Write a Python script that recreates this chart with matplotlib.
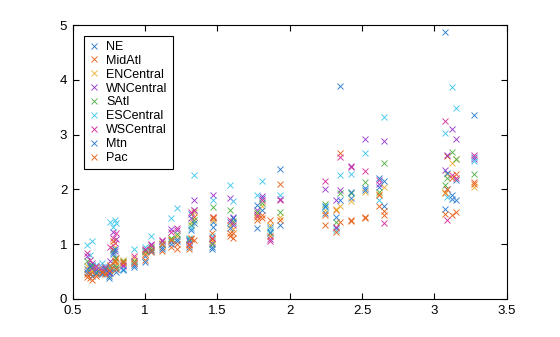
import matplotlib
matplotlib.use("Agg")
import matplotlib.pyplot as plt
from matplotlib.ticker import FuncFormatter

# weighted average ILI (x) for each week, and per-region ILI (y)
wtd = [0.60, 0.62, 0.63, 0.66, 0.70, 0.72, 0.75, 0.76, 0.78, 0.79, 0.80,
       0.85, 0.92, 1.00, 1.04, 1.12, 1.18, 1.22, 1.30, 1.32, 1.34, 1.46,
       1.47, 1.59, 1.61, 1.77, 1.81, 1.86, 1.93, 2.24, 2.32, 2.345, 2.42,
       2.52, 2.62, 2.65, 3.07, 3.09, 3.12, 3.15, 3.27]

NE = [0.55, 0.48, 0.60, 0.52, 0.50, 0.47, 0.42, 0.55, 0.85, 0.62, 0.50,
      0.55, 0.62, 0.78, 0.92, 0.95, 1.05, 1.10, 0.95, 1.55, 1.62, 0.95,
      1.40, 1.40, 1.38, 1.29, 1.85, 1.32, 1.35, 1.57, 1.30, 3.89, 1.85,
      2.02, 2.05, 1.70, 4.87, 2.00, 1.82, 2.18, 2.60]
MidAtl = [0.45, 0.38, 0.50, 0.45, 0.48, 0.55, 0.50, 0.60, 0.92, 0.68, 0.75,
          0.65, 0.70, 0.72, 0.85, 0.88, 0.95, 0.92, 0.92, 1.10, 1.50, 1.20,
          1.48, 1.15, 1.20, 1.55, 1.53, 1.44, 2.10, 1.35, 1.62, 2.67, 1.42,
          1.47, 1.70, 1.53, 1.93, 2.61, 1.53, 1.58, 2.14]
ENCentral = [0.60, 0.55, 0.52, 0.58, 0.55, 0.50, 0.45, 0.52, 0.98, 0.72, 0.62,
             0.72, 0.75, 0.85, 0.95, 1.02, 1.10, 1.15, 1.00, 1.40, 1.58, 1.05,
             1.45, 1.35, 1.28, 1.50, 1.70, 1.35, 1.50, 1.62, 1.65, 1.70, 1.78,
             1.95, 1.92, 2.05, 1.96, 2.29, 2.48, 2.55, 2.05]
WNCentral = [0.78, 0.62, 0.66, 0.55, 0.58, 0.52, 0.48, 0.70, 1.22, 0.88, 1.10,
             0.60, 0.66, 0.90, 1.00, 1.05, 1.28, 1.25, 1.05, 1.48, 1.80, 1.02,
             1.90, 1.84, 1.50, 1.62, 1.88, 1.10, 1.83, 2.01, 1.81, 1.99, 2.43,
             2.92, 2.10, 2.88, 2.35, 2.62, 3.11, 2.92, 2.55]
SAtl = [0.70, 0.58, 0.62, 0.50, 0.52, 0.56, 0.52, 0.58, 0.90, 0.75, 0.58,
        0.70, 0.70, 0.88, 0.95, 1.00, 1.12, 1.18, 1.10, 1.35, 1.45, 1.00,
        1.68, 1.62, 1.42, 1.58, 1.75, 1.20, 1.59, 1.73, 1.40, 1.93, 1.93,
        2.13, 1.95, 2.48, 2.08, 2.20, 2.69, 2.55, 2.28]
ESCentral = [0.98, 0.80, 1.06, 0.62, 0.65, 0.60, 0.58, 1.40, 1.32, 1.45, 1.38,
             0.55, 0.92, 0.95, 1.15, 1.00, 1.48, 1.66, 1.12, 1.30, 2.26, 1.15,
             1.81, 2.08, 1.78, 1.90, 2.16, 1.28, 1.90, 1.68, 1.25, 2.26, 2.28,
             2.66, 1.81, 3.33, 3.03, 1.87, 3.87, 3.49, 2.51]
WSCentral = [0.84, 0.72, 0.56, 0.60, 0.52, 0.58, 0.50, 0.95, 1.12, 1.02, 1.20,
             0.62, 0.78, 0.92, 0.98, 1.08, 1.22, 1.30, 1.00, 1.58, 1.62, 1.12,
             1.50, 1.45, 1.35, 1.52, 1.80, 1.05, 1.81, 2.15, 1.32, 2.59, 2.40,
             2.34, 2.17, 1.39, 3.24, 1.44, 2.26, 2.20, 2.63]
Mtn = [0.50, 0.60, 0.42, 0.48, 0.45, 0.55, 0.38, 0.48, 0.82, 0.92, 0.55,
       0.52, 0.58, 0.68, 0.88, 0.92, 1.00, 1.05, 1.08, 1.25, 1.38, 0.92,
       1.32, 1.30, 1.48, 1.72, 1.62, 1.22, 2.38, 1.70, 1.50, 1.81, 1.95,
       1.98, 2.20, 2.15, 1.65, 2.30, 1.90, 1.80, 3.35]
Pac = [0.40, 0.45, 0.35, 0.42, 0.50, 0.45, 0.52, 0.62, 1.05, 0.70, 0.55,
       0.68, 0.65, 0.82, 0.90, 1.00, 1.08, 1.00, 0.98, 1.12, 1.08, 1.10,
       1.50, 1.20, 1.12, 1.44, 1.48, 1.15, 1.44, 1.53, 1.23, 1.41, 1.44,
       1.50, 1.90, 1.60, 1.56, 2.00, 2.20, 2.28, 2.10]

regions = ["NE", "MidAtl", "ENCentral", "WNCentral", "SAtl",
           "ESCentral", "WSCentral", "Mtn", "Pac"]
series = [NE, MidAtl, ENCentral, WNCentral, SAtl, ESCentral, WSCentral, Mtn, Pac]
colors = ["#2f7fd0", "#e8651f", "#f0b13a", "#9a3dcf", "#55b24a",
          "#45c8f0", "#d6329c", "#2f7fd0", "#e8651f"]

plt.rcParams["font.family"] = ["Liberation Sans", "DejaVu Sans"]
plt.rcParams["font.size"] = 9.5

fig = plt.figure(figsize=(5.6, 3.37), dpi=100)
ax = fig.add_axes([0.13, 0.1128, 0.775, 0.813])

for name, vals, c in zip(regions, series, colors):
    ax.plot(wtd, vals, "x", color=c, markersize=5, markeredgewidth=0.65,
            label=name)

ax.set_xlim(0.5, 3.5)
ax.set_ylim(0, 5)
ax.set_xticks([0.5, 1, 1.5, 2, 2.5, 3, 3.5])
ax.set_yticks([0, 1, 2, 3, 4, 5])
ax.xaxis.set_major_formatter(FuncFormatter(lambda v, p: f"{v:g}"))
ax.yaxis.set_major_formatter(FuncFormatter(lambda v, p: f"{v:g}"))
ax.tick_params(direction="in", top=True, right=True, length=4, width=0.8,
               labelsize=9.5, pad=4)
for s in ax.spines.values():
    s.set_linewidth(0.8)

leg = ax.legend(loc="upper left", bbox_to_anchor=(0.025, 0.96), fancybox=False,
                edgecolor="black", framealpha=1, fontsize=9, borderpad=0.4,
                labelspacing=0.15, handlelength=0.9, handletextpad=0.5,
                borderaxespad=0)
leg.get_frame().set_linewidth(0.8)

fig.savefig("out.png", dpi=100)
